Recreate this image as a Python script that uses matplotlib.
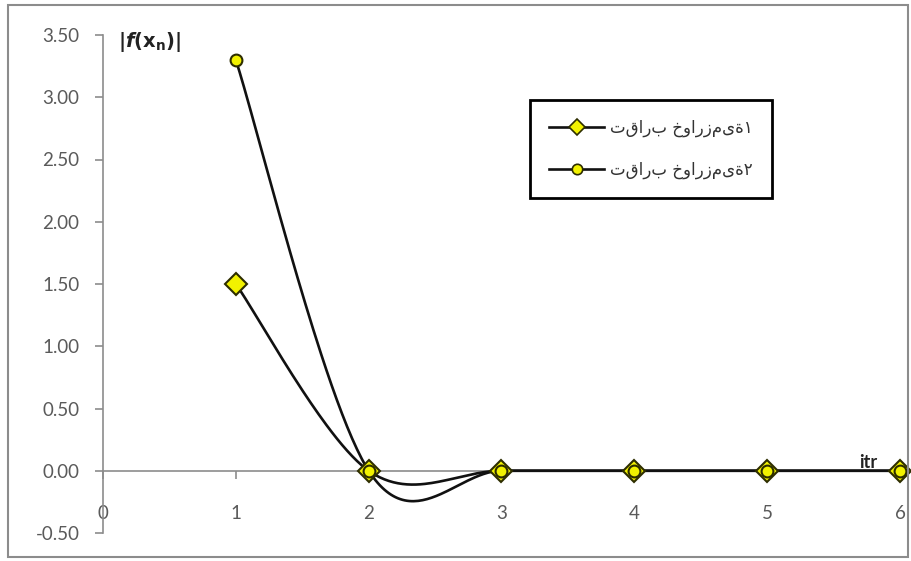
import numpy as np
import matplotlib
matplotlib.use("Agg")
import matplotlib.pyplot as plt
from matplotlib.lines import Line2D
from matplotlib.patches import Rectangle

# ---- data ----
iterations = [1, 2, 3, 4, 5, 6]
alg1_values = [1.5, 0.0, 0.0, 0.0, 0.0, 0.0]
alg2_values = [3.3, 0.0, 0.0, 0.0, 0.0, 0.0]
series_labels = ["تقارب خوارزمیة۱", "تقارب خوارزمیة۲"]
y_ticks = [-0.5, 0.0, 0.5, 1.0, 1.5, 2.0, 2.5, 3.0, 3.5]
x_ticks = [0, 1, 2, 3, 4, 5, 6]
y_label = r"$\mathbf{|}\boldsymbol{f}\mathbf{(x_n)|}$"
x_label = "itr"


def excel_smooth(x, y, n=60):
    pts = np.column_stack([np.asarray(x, float), np.asarray(y, float)])
    out = []
    m = len(pts)
    t = np.linspace(0, 1, n)[:, None]
    for i in range(m - 1):
        p0 = pts[max(i - 1, 0)]
        p1 = pts[i]
        p2 = pts[i + 1]
        p3 = pts[min(i + 2, m - 1)]
        c1 = p1 + (p2 - p0) / 6.0
        c2 = p2 - (p3 - p1) / 6.0
        seg = (1 - t) ** 3 * p1 + 3 * (1 - t) ** 2 * t * c1 + 3 * (1 - t) * t ** 2 * c2 + t ** 3 * p2
        out.append(seg if i == 0 else seg[1:])
    return np.vstack(out)


W, H = 912, 561
fig = plt.figure(figsize=(W / 100, H / 100), dpi=100)
fig.patch.set_facecolor("white")
fig.patches.append(Rectangle((8 / W, 1 - 557 / H), 900 / W, 552 / H, transform=fig.transFigure,
                             fill=False, edgecolor="#8c8c8c", linewidth=1.5))

ax = fig.add_axes([103 / W, 1 - 533 / H, (900 - 103) / W, (533 - 35) / H])
ax.set_xlim(0, 6)
ax.set_ylim(-0.5, 3.5)

line_col = "#111111"
face = "#f2f200"
edge = "#2e2e00"

s1 = excel_smooth(iterations, alg1_values)
s2 = excel_smooth(iterations, alg2_values)
ax.plot(s1[:, 0], s1[:, 1], color=line_col, lw=1.9, zorder=3, solid_capstyle="round")
ax.plot(s2[:, 0], s2[:, 1], color=line_col, lw=1.9, zorder=3, solid_capstyle="round")
ax.plot(iterations, alg1_values, ls="none", marker="D", ms=11, mfc=face, mec=edge, mew=1.5,
        zorder=4, clip_on=False)
ax.plot(iterations, alg2_values, ls="none", marker="o", ms=8.5, mfc=face, mec=edge, mew=1.5,
        zorder=5, clip_on=False)

for s in ["top", "right"]:
    ax.spines[s].set_visible(False)
ax.spines["bottom"].set_position(("data", 0))
ax.spines["left"].set_color("#8c8c8c")
ax.spines["bottom"].set_color("#8c8c8c")
ax.spines["left"].set_linewidth(1.2)
ax.spines["bottom"].set_linewidth(1.2)

ax.set_yticks(y_ticks)
ax.set_yticklabels([f"{v:.2f}" for v in y_ticks])
ax.set_xticks(x_ticks)
ax.set_xticklabels([str(v) for v in x_ticks])
ax.tick_params(axis="y", direction="out", length=6, width=1.2, color="#8c8c8c", pad=11,
               labelsize=13.5, labelcolor="#5a5a5a")
ax.tick_params(axis="x", direction="out", length=6, width=1.2, color="#8c8c8c", pad=19,
               labelsize=13.5, labelcolor="#5a5a5a")
for lab in ax.get_xticklabels() + ax.get_yticklabels():
    lab.set_fontfamily("Lato")

fig.text(118 / W, 1 - 42 / H, y_label, fontsize=14, color="#222222", ha="left", va="center")
fig.text(868 / W, 1 - 462 / H, x_label, fontsize=13, fontweight="bold", family="Lato",
         color="#222222", ha="center", va="center")

handles = [
    Line2D([], [], color=line_col, lw=1.9, marker="D", ms=8, mfc=face, mec=edge, mew=1.2),
    Line2D([], [], color=line_col, lw=1.9, marker="o", ms=7.5, mfc=face, mec=edge, mew=1.2),
]
leg = ax.legend(handles, series_labels, loc="upper left",
                bbox_to_anchor=(530 / W, 1 - 100 / H), bbox_transform=fig.transFigure,
                frameon=True, fancybox=False, edgecolor="black", framealpha=1,
                prop={"family": ["DejaVu Sans"], "size": 12},
                handlelength=3.3, handletextpad=0.35, borderpad=1.15, labelspacing=1.4,
                borderaxespad=0)
leg.get_frame().set_linewidth(2.0)
for t in leg.get_texts():
    t.set_color("#333333")

fig.savefig("out.png", dpi=100)
